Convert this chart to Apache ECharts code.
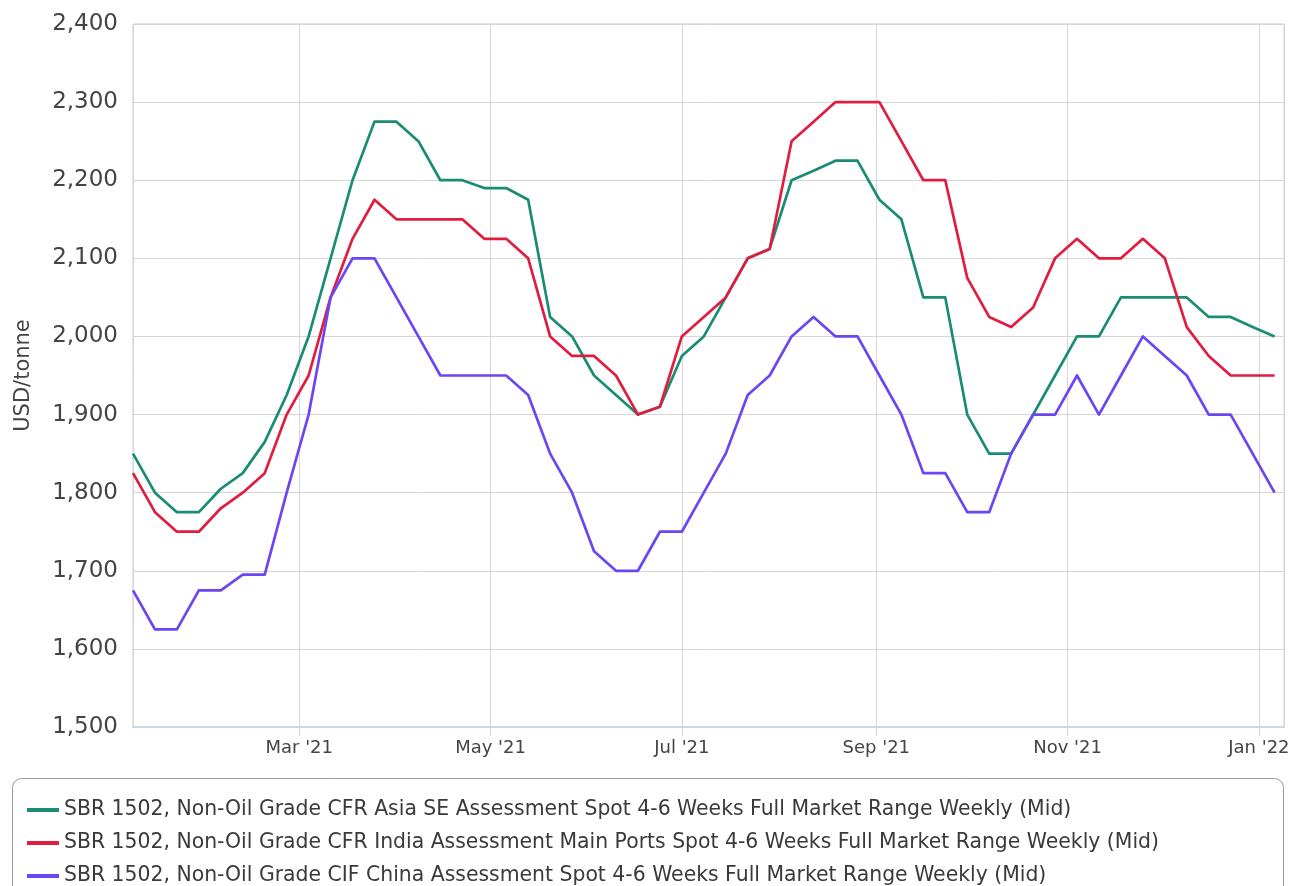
<!DOCTYPE html>
<html>
<head>
<meta charset="utf-8">
<title>SBR 1502 weekly prices</title>
<script src="https://cdn.jsdelivr.net/npm/echarts@6/dist/echarts.min.js"></script>
<style>
  html, body { margin: 0; padding: 0; background: #fff; }
  #chart { width: 1292px; height: 886px; }
</style>
</head>
<body>
<div id="chart"></div>
<script>
var weeks = [
    '2021-01-07','2021-01-14','2021-01-21','2021-01-28','2021-02-04','2021-02-11','2021-02-18','2021-02-25',
    '2021-03-04','2021-03-11','2021-03-18','2021-03-25','2021-04-01','2021-04-08','2021-04-15','2021-04-22',
    '2021-04-29','2021-05-06','2021-05-13','2021-05-20','2021-05-27','2021-06-03','2021-06-10','2021-06-17',
    '2021-06-24','2021-07-01','2021-07-08','2021-07-15','2021-07-22','2021-07-29','2021-08-05','2021-08-12',
    '2021-08-19','2021-08-26','2021-09-02','2021-09-09','2021-09-16','2021-09-23','2021-09-30','2021-10-07',
    '2021-10-14','2021-10-21','2021-10-28','2021-11-04','2021-11-11','2021-11-18','2021-11-25','2021-12-02',
    '2021-12-09','2021-12-16','2021-12-23','2021-12-30','2022-01-06'
];

var asiaSE = [1850,1800,1775,1775,1805,1825,1865,1925,2000,2100,2200,2275,2275,2250,2200,2200,
    2190,2190,2175,2025,2000,1950,1925,1900,1910,1975,2000,2050,2100,2112,2200,2212,
    2225,2225,2175,2150,2050,2050,1900,1850,1850,1900,1950,2000,2000,2050,2050,2050,
    2050,2025,2025,2012,2000];

var india = [1825,1775,1750,1750,1780,1800,1825,1900,1950,2050,2125,2175,2150,2150,2150,2150,
    2125,2125,2100,2000,1975,1975,1950,1900,1910,2000,2025,2050,2100,2112,2250,2275,
    2300,2300,2300,2250,2200,2200,2075,2025,2012,2037,2100,2125,2100,2100,2125,2100,
    2012,1975,1950,1950,1950];

var china = [1675,1625,1625,1675,1675,1695,1695,1800,1900,2050,2100,2100,2050,2000,1950,1950,
    1950,1950,1925,1850,1800,1725,1700,1700,1750,1750,1800,1850,1925,1950,2000,2025,
    2000,2000,1950,1900,1825,1825,1775,1775,1850,1900,1900,1950,1900,1950,2000,1975,
    1950,1900,1900,1850,1800];

var seriesNames = [
    'SBR 1502, Non-Oil Grade CFR Asia SE Assessment Spot 4-6 Weeks Full Market Range Weekly (Mid)',
    'SBR 1502, Non-Oil Grade CFR India Assessment Main Ports Spot 4-6 Weeks Full Market Range Weekly (Mid)',
    'SBR 1502, Non-Oil Grade CIF China Assessment Spot 4-6 Weeks Full Market Range Weekly (Mid)'
];
var seriesColors = ['#1a8c74', '#e11d3f', '#6b46f2'];
var monthNames = ['Jan','Feb','Mar','Apr','May','Jun','Jul','Aug','Sep','Oct','Nov','Dec'];

function pairs(vals) {
    return weeks.map(function (w, i) { return [w, vals[i]]; });
}

var chart = echarts.init(document.getElementById('chart'));
var fontFamily = '"DejaVu Sans", Verdana, sans-serif';

var option = {
    animation: false,
    textStyle: { fontFamily: fontFamily },
    color: seriesColors,
    grid: {
        left: 133, right: 8, top: 24, bottom: 159,
        containLabel: false,
        outerBoundsMode: 'none',
        show: true, borderColor: '#cccccc', borderWidth: 1
    },
    legend: {
        orient: 'vertical',
        left: 27, top: 800,
        padding: 0,
        itemGap: 13,
        itemWidth: 32, itemHeight: 4,
        icon: 'rect',
        textStyle: { fontSize: 20.4, color: '#3a3a3a', lineHeight: 20, fontFamily: fontFamily },
        data: seriesNames
    },
    graphic: [{
        type: 'rect',
        shape: { x: 12.5, y: 778.5, width: 1271, height: 140, r: 9 },
        style: { fill: 'none', stroke: '#9a9a9a', lineWidth: 1 },
        silent: true
    }],
    xAxis: {
        type: 'time',
        min: '2021-01-07',
        max: '2022-01-09',
        splitNumber: 6,
        axisLine: { show: true, lineStyle: { color: '#ccd6eb', width: 2 } },
        axisTick: { show: true, length: 9, lineStyle: { color: '#ccd6eb' } },
        splitLine: { show: true, lineStyle: { color: '#d6d6d6', width: 1 } },
        axisLabel: {
            fontSize: 18, color: '#444', margin: 12,
            formatter: function (v) {
                var d = new Date(v);
                return monthNames[d.getMonth()] + " '" + String(d.getFullYear()).slice(2);
            }
        }
    },
    yAxis: {
        type: 'value',
        min: 1500, max: 2400, interval: 100,
        name: 'USD/tonne',
        nameLocation: 'middle',
        nameGap: 99,
        nameTextStyle: { fontSize: 21, color: '#444' },
        axisLine: { show: false },
        axisTick: { show: false },
        splitLine: { lineStyle: { color: '#d6d6d6', width: 1 } },
        axisLabel: {
            fontSize: 23, color: '#444', margin: 15,
            formatter: function (v) { return v.toLocaleString('en-US'); }
        }
    },
    series: [
        { name: seriesNames[0], type: 'line', data: pairs(asiaSE), showSymbol: false, lineStyle: { width: 2.7, join: 'round' } },
        { name: seriesNames[1], type: 'line', data: pairs(india), showSymbol: false, lineStyle: { width: 2.7, join: 'round' } },
        { name: seriesNames[2], type: 'line', data: pairs(china), showSymbol: false, lineStyle: { width: 2.7, join: 'round' } }
    ]
};

chart.setOption(option);
window.addEventListener('resize', chart.resize);
</script>
</body>
</html>
